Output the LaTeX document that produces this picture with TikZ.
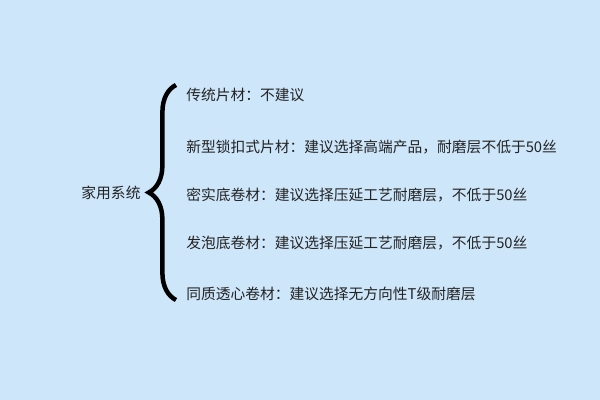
\documentclass[tikz,border=0pt]{standalone}
\usepackage{fontspec}
\newfontfamily\cjk{Noto Sans CJK SC}
\usetikzlibrary{positioning, decorations.pathreplacing}

\definecolor{bgblue}{RGB}{205,230,250}
\definecolor{txtgray}{RGB}{35,35,35}

\begin{document}
\begin{tikzpicture}[node distance=1.25cm, on grid,
    label/.style={text=txtgray, font=\cjk\fontsize{10.5}{12}\selectfont, inner sep=0pt},
    item/.style={label, anchor=west}]
            \fill[bgblue] (0,0) rectangle (15,-10);
            \useasboundingbox (0,0) rectangle (15,-10);

            \node[label] (Home) at (2.775,-4.825) {家用系统};

            \node[item] (Sheet) at (4.65,-2.375) {传统片材：不建议};
            \node[item, below=1.3cm of Sheet.west, anchor=west] (Lock) {新型锁扣式片材：建议选择高端产品，耐磨层不低于50丝};
            \node[item, below=1.2cm of Lock.west, anchor=west] (Dense) {密实底卷材：建议选择压延工艺耐磨层，不低于50丝};
            \node[item, below=1.2cm of Dense.west, anchor=west] (Foam) {发泡底卷材：建议选择压延工艺耐磨层，不低于50丝};
            \node[item, below=1.275cm of Foam.west, anchor=west] (Homo) {同质透心卷材：建议选择无方向性T级耐磨层};

            % the big brace joining the system to its items
            \coordinate (BraceBot) at (4.4,-7.5);
            \coordinate (BraceTop) at (4.4,-2.125);
            \draw[black, line width=3.2pt,
                  decorate, decoration={brace, amplitude=0.68cm}]
                (BraceBot) -- (BraceTop);
        \end{tikzpicture}
\end{document}
